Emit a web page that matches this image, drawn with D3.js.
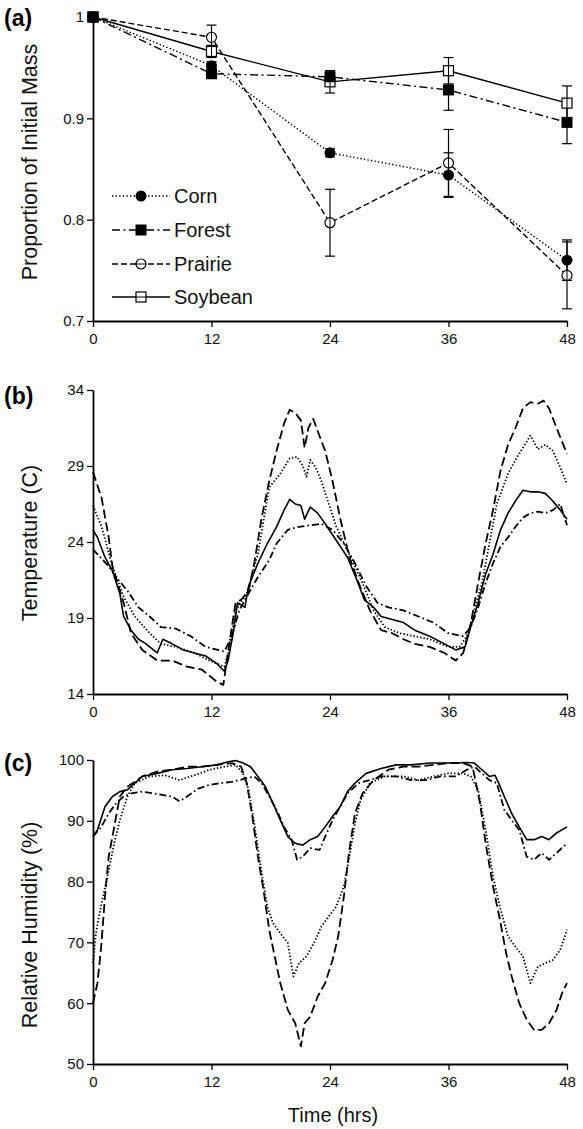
<!DOCTYPE html>
<html><head><meta charset="utf-8">
<script src="https://cdn.jsdelivr.net/npm/d3@7"></script>
<style>
html,body{margin:0;padding:0;background:#fff;}
svg{display:block;font-family:"Liberation Sans",Arial,sans-serif;}
</style></head>
<body>
<svg id="chart" width="583" height="1129"></svg>
<script>
// ---------- DATA ----------
const seriesNames = ["Corn", "Forest", "Prairie", "Soybean"];
const xTicks = [0, 12, 24, 36, 48];
const massTicks = [0.7, 0.8, 0.9, 1.0];
const tempTicks = [14, 19, 24, 29, 34];
const rhTicks = [50, 60, 70, 80, 90, 100];

// (a) proportion of initial mass
const massTimes = [0, 12, 24, 36, 48];
const cornMass = [1.0, 0.952, 0.866, 0.844, 0.760];
const cornErr = [0, 0.004, 0.004, 0.022, 0.020];
const forestMass = [1.0, 0.944, 0.941, 0.928, 0.896];
const forestErr = [0, 0.004, 0.006, 0.020, 0.021];
const prairieMass = [1.0, 0.980, 0.797, 0.856, 0.745];
const prairieErr = [0, 0.012, 0.033, 0.033, 0.033];
const soyMass = [1.0, 0.966, 0.936, 0.947, 0.915];
const soyErr = [0, 0.006, 0.011, 0.013, 0.017];

// (b) temperature [hour, C]
const cornTemp = [[0,26.4],[0.87,25.0],[1.97,22.4],[3.1,20.4],[4.23,19.1],[5.74,18.0],[6.88,17.3],[8.39,17.1],[10.28,16.7],[11.79,16.2],[13.3,15.8],[13.87,17.1],[14.44,19.5],[15.57,20.6],[16.7,23.2],[17.84,27.6],[18.97,28.5],[19.92,29.5],[20.67,29.6],[21.24,29.0],[21.62,28.3],[22.0,29.4],[22.56,28.9],[23.13,28.0],[23.88,26.5],[24.64,25.0],[25.59,23.7],[26.53,22.4],[27.29,21.3],[28.42,19.5],[29.55,18.4],[31.07,18.0],[32.58,17.8],[34.09,17.6],[35.98,17.1],[37.11,17.1],[37.87,17.8],[38.62,19.5],[39.38,21.3],[40.14,23.9],[40.89,26.5],[42.03,28.5],[42.78,29.4],[43.54,30.2],[44.29,31.0],[45.05,30.1],[45.8,30.4],[46.56,30.0],[47.32,28.9],[48,27.8]];
const forestTemp = [[0,23.5],[0.45,23.2],[1.59,22.4],[2.34,21.7],[3.48,20.8],[4.61,19.7],[5.74,19.1],[6.88,18.4],[8.39,18.3],[9.9,17.8],[11.41,17.1],[13.3,16.8],[14.06,17.8],[14.81,19.5],[15.57,20.4],[16.7,21.7],[17.84,22.8],[18.59,23.9],[19.73,24.8],[20.86,25.0],[22.0,25.1],[23.13,25.2],[24.26,24.8],[25.4,23.9],[26.53,22.6],[27.66,21.1],[28.8,20.0],[29.93,19.7],[31.44,19.5],[32.96,19.1],[34.47,18.7],[35.98,18.0],[37.49,17.8],[38.25,18.4],[39.0,19.7],[39.76,21.3],[40.51,22.6],[41.27,23.7],[42.03,24.3],[42.78,25.0],[43.54,25.6],[44.29,25.9],[45.05,26.0],[45.8,25.9],[46.56,26.1],[47.32,26.5],[48,25.1]];
const prairieTemp = [[0,28.6],[0.87,26.9],[1.59,24.3],[1.97,22.4],[3.1,20.0],[3.85,18.0],[4.99,16.9],[6.5,16.2],[8.01,16.2],[9.52,15.8],[11.04,15.6],[12.55,14.8],[13.2,14.6],[13.68,16.8],[14.44,20.0],[15.0,20.2],[15.76,20.8],[16.33,22.6],[17.08,25.6],[17.84,28.0],[18.59,30.0],[19.35,31.8],[19.92,32.7],[20.48,32.5],[21.05,32.0],[21.43,30.2],[21.81,31.5],[22.3,32.1],[22.75,31.3],[23.51,30.0],[24.26,28.0],[25.02,25.6],[25.96,23.0],[26.91,21.3],[28.04,19.5],[29.18,18.2],[30.31,18.0],[31.44,17.6],[32.58,17.3],[34.09,17.1],[35.6,16.7],[36.73,16.2],[37.49,16.7],[38.25,18.6],[39.0,21.3],[39.76,23.9],[40.51,26.1],[41.27,28.7],[42.03,30.4],[42.78,31.5],[43.54,32.8],[44.29,33.2],[45.05,33.1],[45.62,33.3],[46.18,32.8],[46.94,31.5],[48,29.8]];
const soyTemp = [[0,24.8],[0.45,24.3],[1.21,23.0],[1.97,22.1],[2.72,20.6],[3.1,19.1],[3.85,18.2],[4.61,17.6],[5.37,17.3],[6.5,16.7],[7.07,17.6],[8.01,17.3],[9.15,16.9],[10.28,16.7],[11.41,16.5],[12.55,16.0],[13.3,15.5],[13.68,16.2],[14.25,18.2],[14.63,20.0],[15.38,19.7],[15.76,21.1],[16.7,22.6],[17.65,23.9],[18.59,25.0],[19.35,26.1],[19.92,26.8],[20.48,26.5],[21.05,26.4],[21.43,25.5],[22.0,26.3],[22.75,25.9],[23.51,25.2],[24.64,24.1],[25.77,23.0],[26.72,21.5],[27.48,20.2],[28.42,19.7],[29.18,19.1],[30.31,18.9],[31.44,18.7],[32.58,18.2],[34.09,17.8],[35.6,17.3],[36.73,16.9],[37.68,17.1],[38.25,18.4],[39.0,20.0],[39.76,21.9],[40.51,23.2],[41.27,24.8],[42.03,25.9],[42.78,26.7],[43.54,27.4],[44.29,27.3],[45.05,27.3],[45.8,27.2],[46.56,26.7],[47.32,26.1],[48,25.5]];

// (c) relative humidity [hour, %]
const cornRH = [[0,66.6],[0.26,71.0],[0.53,73.7],[1.02,77.5],[1.59,81.9],[2.15,86.3],[2.72,90.1],[3.48,94.0],[4.23,96.2],[5.74,97.3],[7.26,97.5],[8.77,96.7],[10.28,97.5],[11.79,98.4],[13.3,98.9],[14.44,99.2],[15.19,97.8],[15.76,95.1],[16.33,89.6],[17.08,81.4],[17.65,75.9],[18.22,73.2],[18.97,71.5],[19.73,69.9],[20.29,64.4],[20.86,66.6],[21.62,67.7],[22.37,69.9],[23.13,72.6],[23.88,74.3],[24.64,75.9],[25.4,79.2],[25.96,84.1],[26.53,89.6],[27.1,93.4],[28.04,96.2],[29.55,97.3],[31.44,97.3],[32.96,96.7],[34.47,97.3],[35.98,97.8],[37.49,97.8],[38.25,97.3],[39.0,95.1],[39.76,88.5],[40.51,80.8],[41.27,75.4],[42.03,71.0],[42.78,69.3],[43.54,67.7],[44.29,63.3],[45.05,66.0],[45.8,66.6],[46.56,67.1],[47.32,68.8],[48,72.1]];
const forestRH = [[0,87.4],[0.83,89.0],[1.59,91.2],[2.34,92.9],[3.1,94.0],[3.85,94.5],[4.99,94.8],[6.12,94.5],[7.26,94.2],[8.01,94.0],[8.77,93.2],[9.52,94.0],[10.66,95.3],[11.79,95.9],[12.93,96.2],[14.06,96.4],[14.81,96.7],[15.57,97.0],[16.33,97.3],[17.08,96.2],[17.84,94.0],[18.59,91.8],[19.35,89.0],[20.11,86.9],[20.67,83.6],[21.24,84.1],[22.0,85.5],[22.94,85.2],[23.51,87.4],[24.26,90.1],[25.02,92.3],[25.77,94.5],[26.91,96.2],[28.04,96.7],[29.18,97.3],[30.69,97.3],[32.2,96.7],[33.71,96.7],[35.22,97.3],[36.73,97.3],[37.87,98.4],[38.62,98.9],[39.38,97.8],[40.14,96.7],[40.89,96.2],[41.65,91.8],[42.4,90.1],[43.16,88.5],[43.92,84.1],[44.67,83.6],[45.43,84.7],[46.18,83.6],[46.94,84.7],[48,86.3]];
const prairieRH = [[0,60.0],[0.45,63.3],[0.83,69.3],[1.21,77.5],[1.59,84.1],[2.15,89.0],[2.72,94.0],[3.48,95.6],[4.99,97.3],[6.5,98.1],[8.01,98.4],[9.52,98.9],[11.04,98.9],[12.55,99.2],[14.06,99.5],[15.0,98.9],[15.57,96.2],[16.14,90.7],[16.7,84.1],[17.27,78.6],[17.84,72.1],[18.4,67.7],[18.97,63.3],[19.73,58.9],[20.48,56.7],[21.05,52.9],[21.43,56.7],[22.0,57.8],[22.75,61.1],[23.51,63.3],[24.26,67.1],[24.83,71.0],[25.4,77.5],[25.96,85.2],[26.53,91.2],[27.29,94.5],[28.42,96.7],[29.93,98.4],[31.44,98.9],[32.96,98.9],[34.47,99.2],[35.98,99.5],[37.49,99.5],[38.44,98.9],[39.19,92.9],[39.76,86.3],[40.51,79.2],[41.27,73.2],[41.84,68.2],[42.4,64.4],[43.16,60.0],[43.92,57.3],[44.67,55.6],[45.43,55.6],[46.18,56.7],[46.94,58.9],[47.51,61.7],[48,63.3]];
const soyRH = [[0,87.4],[0.45,88.5],[1.21,92.3],[1.97,94.0],[2.72,94.8],[3.48,95.1],[4.23,96.2],[4.99,97.3],[6.5,97.8],[8.01,98.4],[9.52,98.6],[11.04,98.9],[12.55,99.2],[13.68,99.7],[14.44,99.9],[15.19,99.5],[15.95,98.9],[16.7,97.3],[17.46,95.6],[18.22,92.9],[18.97,90.1],[19.73,87.4],[20.48,86.3],[21.24,86.0],[22.0,86.9],[22.75,87.4],[23.51,89.0],[24.26,90.7],[25.02,92.3],[25.77,94.8],[26.53,96.2],[27.66,97.8],[29.18,98.6],[30.69,99.2],[32.2,99.2],[34.09,99.5],[35.98,99.5],[37.87,99.6],[38.62,99.5],[39.38,98.4],[40.14,97.3],[40.7,97.5],[41.08,96.2],[41.65,94.0],[42.4,91.2],[43.16,89.0],[43.92,86.9],[44.67,86.9],[45.43,87.4],[46.18,86.9],[46.94,88.0],[48,89.0]];

// ---------- DRAWING ----------
const svg = d3.select("#chart");
const FONT = '"Liberation Sans", Arial, sans-serif';
const dash = {Corn: "1.4,2.2", Forest: "8,3.5,2,3.5", Prairie: "6,3", Soybean: null};
const dashTS = {Corn: "1.4,2", Forest: "7,3,1.6,3", Prairie: "9,4", Soybean: null};

const x = d3.scaleLinear().domain([0, 48]).range([93, 567]);
const yA = d3.scaleLinear().domain([0.7, 1.0]).range([321, 17]);
const yB = d3.scaleLinear().domain([14, 34]).range([694, 390]);
const yC = d3.scaleLinear().domain([50, 100]).range([1064, 760]);

function drawAxes(y, ticks, fmt, bottom) {
  const gx = svg.append("g").attr("transform", `translate(0,${bottom})`)
    .call(d3.axisBottom(x).tickValues(xTicks).tickSizeInner(6).tickSizeOuter(0).tickPadding(6));
  const gy = svg.append("g").attr("transform", `translate(${x(0)},0)`)
    .call(d3.axisLeft(y).tickValues(ticks).tickFormat(fmt).tickSizeInner(6).tickSizeOuter(0).tickPadding(3));
  [gx, gy].forEach(g => {
    g.select(".domain").attr("stroke", "#000").attr("stroke-width", 1.8);
    g.selectAll(".tick line").attr("stroke", "#000").attr("stroke-width", 1.3);
    g.selectAll(".tick text").attr("fill", "#111").style("font-family", FONT).style("font-size", "15px");
  });
}

drawAxes(yA, massTicks, d => d === 1 ? "1" : d3.format(".1f")(d), 321);
drawAxes(yB, tempTicks, d3.format("d"), 694);
drawAxes(yC, rhTicks, d3.format("d"), 1064);

// panel labels
[["(a)", 26], ["(b)", 404], ["(c)", 771]].forEach(([t, yy]) => {
  svg.append("text").attr("x", 4).attr("y", yy).text(t)
    .style("font-family", FONT).style("font-size", "23px").style("font-weight", "bold");
});
// y titles
[["Proportion of Initial Mass", 162], ["Temperature (C)", 543], ["Relative Humidity (%)", 925]].forEach(([t, cy]) => {
  svg.append("text").attr("transform", `translate(37,${cy}) rotate(-90)`).attr("text-anchor", "middle")
    .text(t).style("font-family", FONT).style("font-size", "21.5px").attr("fill", "#111");
});
svg.append("text").attr("x", 333).attr("y", 1122).attr("text-anchor", "middle").text("Time (hrs)")
  .style("font-family", FONT).style("font-size", "20px").attr("fill", "#111");

// ---- panel (a) ----
const massSeries = [
  {name: "Soybean", v: soyMass, e: soyErr},
  {name: "Prairie", v: prairieMass, e: prairieErr},
  {name: "Corn", v: cornMass, e: cornErr},
  {name: "Forest", v: forestMass, e: forestErr}
];
const lineA = d3.line().x(d => x(d[0])).y(d => yA(d[1]));
massSeries.forEach(s => {
  const pts = massTimes.map((t, i) => [t, s.v[i], s.e[i]]);
  svg.append("path").datum(pts).attr("d", lineA).attr("fill", "none").attr("stroke", "#000")
    .attr("stroke-width", 1.4).attr("stroke-dasharray", dash[s.name]);
});
massSeries.forEach(s => {
  const pts = massTimes.map((t, i) => [t, s.v[i], s.e[i]]).filter(d => d[2] > 0);
  const g = svg.append("g").attr("stroke", "#000").attr("stroke-width", 1.2);
  g.selectAll("line.v").data(pts).join("line").attr("x1", d => x(d[0])).attr("x2", d => x(d[0]))
    .attr("y1", d => yA(d[1] - d[2])).attr("y2", d => yA(d[1] + d[2]));
  [-1, 1].forEach(sg => {
    g.selectAll("line.c" + sg).data(pts).join("line").attr("x1", d => x(d[0]) - 5).attr("x2", d => x(d[0]) + 5)
      .attr("y1", d => yA(d[1] + sg * d[2])).attr("y2", d => yA(d[1] + sg * d[2]));
  });
});
function marker(g, name, cx, cy) {
  if (name === "Corn") g.append("circle").attr("cx", cx).attr("cy", cy).attr("r", 5.5).attr("fill", "#000");
  else if (name === "Forest") g.append("rect").attr("x", cx - 5.5).attr("y", cy - 5.5).attr("width", 11).attr("height", 11).attr("fill", "#000");
  else if (name === "Prairie") {
    g.append("circle").attr("cx", cx).attr("cy", cy).attr("r", 5).attr("fill", "#fff").attr("stroke", "#000").attr("stroke-width", 1.2);
  } else g.append("rect").attr("x", cx - 5).attr("y", cy - 5).attr("width", 10).attr("height", 10).attr("fill", "#fff").attr("stroke", "#000").attr("stroke-width", 1.2);
}
massSeries.forEach(s => {
  const g = svg.append("g");
  massTimes.forEach((t, i) => marker(g, s.name, x(t), yA(s.v[i])));
});
massSeries.filter(s => s.name === "Prairie" || s.name === "Soybean").forEach(s => {
  const pts = massTimes.map((t, i) => [t, s.v[i], s.e[i]]).filter(d => d[2] > 0);
  svg.append("g").selectAll("line").data(pts).join("line").attr("stroke", "#000").attr("stroke-width", 1)
    .attr("x1", d => x(d[0])).attr("x2", d => x(d[0])).attr("y1", d => yA(d[1]) - 5).attr("y2", d => yA(d[1]) + 5);
});

// legend
const legendRows = [196, 230, 264, 297];
seriesNames.forEach((n, i) => {
  const g = svg.append("g");
  const yy = legendRows[i];
  g.append("line").attr("x1", 112).attr("x2", 170).attr("y1", yy).attr("y2", yy).attr("stroke", "#000")
    .attr("stroke-width", 1.4).attr("stroke-dasharray", dash[n]);
  marker(g, n, 141, yy);
  if (n === "Prairie" || n === "Soybean") g.append("line").attr("x1", 136).attr("x2", 146).attr("y1", yy).attr("y2", yy).attr("stroke", "#000").attr("stroke-width", 1);
  g.append("text").attr("x", 174).attr("y", yy + 7).text(n).style("font-family", FONT).style("font-size", "20px").attr("fill", "#111");
});

// ---- panels (b) and (c) ----
function drawTS(y, data) {
  const line = d3.line().x(d => x(d[0])).y(d => y(d[1]));
  data.forEach(([name, arr]) => {
    svg.append("path").datum(arr).attr("d", line).attr("fill", "none").attr("stroke", "#000")
      .attr("stroke-width", name === "Soybean" ? 1.6 : 1.8).attr("stroke-linejoin", "round")
      .attr("stroke-dasharray", dashTS[name]);
  });
}
drawTS(yB, [["Corn", cornTemp], ["Forest", forestTemp], ["Prairie", prairieTemp], ["Soybean", soyTemp]]);
drawTS(yC, [["Corn", cornRH], ["Forest", forestRH], ["Prairie", prairieRH], ["Soybean", soyRH]]);
</script>
</body></html>
